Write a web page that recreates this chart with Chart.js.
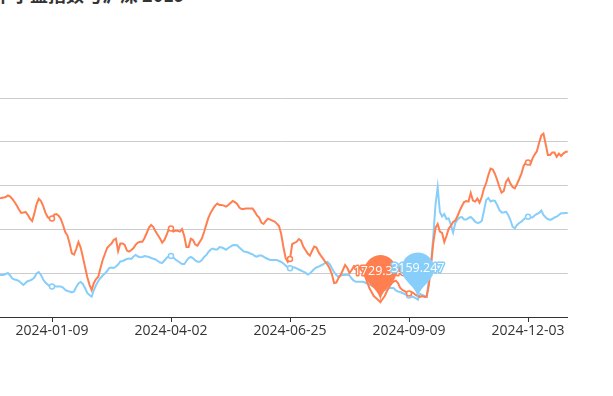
<!DOCTYPE html>
<html><head><meta charset="utf-8">
<script src="https://cdn.jsdelivr.net/npm/chart.js@4.4.1/dist/chart.umd.min.js"></script>
<style>
html,body{margin:0;padding:0;width:613px;height:396px;overflow:hidden;background:#fff;}
#title{position:absolute;left:-6px;top:-19px;font:bold 18px "Noto Sans CJK SC";color:#333;white-space:nowrap;}
#wrap{position:absolute;left:-50px;top:0;width:663px;height:396px;}
</style></head><body>
<div id="title">中小盘指数与沪深 2019</div>
<div id="wrap"><canvas id="c" width="663" height="396"></canvas></div>
<script>
// trading months and their trading days (categories)
const tradeMonths = ['2023-12','2024-01','2024-02','2024-03','2024-04','2024-05','2024-06','2024-07','2024-08','2024-09','2024-10','2024-11','2024-12'];
const tradeDays = [
  [1,4,5,6,7,8,11,12,13,14,15,18,19,20,21,22,25,26,27,28,29],
  [2,3,4,5,8,9,10,11,12,15,16,17,18,19,22,23,24,25,26,29,30,31],
  [1,2,5,6,7,8,19,20,21,22,23,26,27,28,29],
  [1,4,5,6,7,8,11,12,13,14,15,18,19,20,21,22,25,26,27,28,29],
  [1,2,3,8,9,10,11,12,15,16,17,18,19,22,23,24,25,26,29,30],
  [6,7,8,9,10,13,14,15,16,17,20,21,22,23,24,27,28,29,30,31],
  [3,4,5,6,7,11,12,13,14,17,18,19,20,21,24,25,26,27,28],
  [1,2,3,4,5,8,9,10,11,12,15,16,17,18,19,22,23,24,25,26,29,30,31],
  [1,2,5,6,7,8,9,12,13,14,15,16,19,20,21,22,23,26,27,28,29,30],
  [2,3,4,5,6,9,10,11,12,13,18,19,20,23,24,25,26,27,30],
  [8,9,10,11,14,15,16,17,18,21,22,23,24,25,28,29,30,31],
  [1,4,5,6,7,8,11,12,13,14,15,18,19,20,21,22,25,26,27,28,29],
  [2,3,4,5,6,9,10,11,12,13,16,17,18,19,20,23,24,25,26,27]
];
const tickLabels = ['2024-01-09','2024-04-02','2024-06-25','2024-09-09','2024-12-03'];

const orangeName = '中小盘指数';
const orangeValues = [
 2245,2248,2249,2250,2252,2255,2263,2257,2245,2230,
 2212,2192,2175,2177,2180,2166,2147,2135,2172,2220,
 2246,2235,2210,2177,2155,2146,2147,2167,2170,2162,
 2145,2115,2080,2062,2022,1973,1967,1995,2030,2002,
 1955,1905,1855,1817,1790,1825,1845,1856,1900,1940,
 1970,2000,2012,2022,2040,2047,1985,2023,2023,2015,
 1987,1982,1990,2000,2017,2027,2031,2031,2050,2075,
 2102,2115,2105,2082,2065,2048,2027,2040,2065,2095,
 2097,2082,2087,2086,2082,2095,2060,2005,2005,2046,
 2040,2017,2012,2030,2047,2080,2117,2152,2177,2195,
 2212,2222,2215,2215,2212,2207,2215,2225,2235,2230,
 2220,2202,2195,2195,2197,2198,2198,2198,2182,2163,
 2152,2127,2120,2135,2147,2142,2137,2132,2122,2110,
 2070,2005,1950,1930,1945,2020,2026,2031,2045,2037,
 2007,1990,1972,1962,1985,2007,2002,1978,1962,1947,
 1930,1917,1897,1870,1825,1827,1850,1866,1890,1915,
 1900,1875,1890,1910,1905,1905,1895,1880,1860,1830,
 1800,1780,1760,1750,1740,1729.346,1745,1760,1785,1805,
 1822,1832,1837,1825,1800,1790,1785,1777,1772,1780,
 1775,1765,1760,1755,1760,1755,1757,1815,1915,2025,
 2100,2120,2082,2075,2030,2060,2097,2110,2130,2137,
 2160,2187,2210,2230,2235,2232,2275,2237,2232,2247,
 2227,2255,2297,2325,2365,2397,2392,2370,2340,2305,
 2277,2285,2331,2347,2322,2305,2298,2320,2345,2372,
 2410,2427,2427,2417,2447,2467,2483,2525,2562,2572,
 2520,2465,2465,2477,2477,2456,2472,2460,2472,2480,
 2482];

const blueName = '沪深300指数';
const blueValues = [
 3395,3400,3405,3405,3405,3415,3425,3400,3370,3360,
 3355,3345,3325,3305,3325,3345,3350,3360,3380,3420,
 3435,3405,3360,3330,3310,3290,3290,3295,3290,3290,
 3290,3280,3255,3245,3240,3230,3240,3285,3320,3335,
 3315,3275,3225,3205,3188,3255,3305,3345,3375,3400,
 3420,3445,3475,3480,3475,3490,3510,3540,3545,3555,
 3565,3570,3565,3590,3605,3590,3582,3585,3595,3590,
 3585,3575,3567,3560,3545,3530,3525,3550,3575,3595,
 3595,3580,3560,3545,3530,3515,3515,3545,3575,3585,
 3572,3550,3538,3538,3555,3585,3605,3635,3660,3670,
 3660,3660,3685,3680,3670,3658,3675,3690,3702,3705,
 3702,3680,3660,3640,3638,3630,3620,3612,3595,3588,
 3600,3600,3588,3575,3565,3555,3555,3555,3555,3545,
 3535,3520,3500,3480,3472,3480,3482,3472,3460,3450,
 3438,3430,3410,3420,3442,3465,3480,3488,3500,3512,
 3525,3535,3515,3472,3435,3405,3388,3400,3405,3405,
 3410,3400,3370,3345,3338,3338,3338,3338,3330,3320,
 3310,3300,3290,3285,3275,3265,3260,3255,3265,3275,
 3275,3275,3250,3240,3235,3225,3215,3205,3200,3190,
 3185,3175,3159.247,3215,3205,3195,3185,3355,3535,3785,
 4105,4285,4035,3990,4015,3965,3970,3905,3830,3925,
 3960,3980,3985,3960,3960,3975,3985,3965,3938,3925,
 3930,3945,4045,4155,4175,4140,4150,4145,4105,4055,
 4030,4030,4038,4005,3955,3888,3872,3905,3925,3938,
 3960,3980,3988,3980,3980,4000,4015,4025,4050,4005,
 3980,3965,3955,3965,3980,3988,4005,4022,4022,4025,
 4025];

const ORANGE = '#ff7f50', BLUE = '#87cefa';

const categories = [];
tradeMonths.forEach((m, k) => tradeDays[k].forEach(d => categories.push(m + '-' + String(d).padStart(2, '0'))));
const tickIdx = tickLabels.map(t => categories.indexOf(t));

function pinPath(ctx, x, y, size) {
  const w = size / 5 * 3, h = Math.max(w, size), r = w / 2;
  const dy = r * r / (h - r);
  const cy = y - h + r + dy;
  const angle = Math.asin(dy / r);
  const dx = Math.cos(angle) * r;
  const tanX = Math.sin(angle), tanY = Math.cos(angle);
  const cpLen = r * 0.6, cpLen2 = r * 0.7;
  ctx.beginPath();
  ctx.moveTo(x - dx, cy + dy);
  ctx.arc(x, cy, r, Math.PI - angle, Math.PI * 2 + angle);
  ctx.bezierCurveTo(x + dx - tanX * cpLen, cy + dy + tanY * cpLen, x, y - cpLen2, x, y);
  ctx.bezierCurveTo(x, y - cpLen2, x - dx + tanX * cpLen, cy + dy + tanY * cpLen, x - dx, cy + dy);
  ctx.closePath();
  return cy;
}

const pinPlugin = {
  id: 'minPins',
  afterDatasetsDraw(chart) {
    const ctx = chart.ctx;
    chart.data.datasets.forEach((ds, di) => {
      const vals = ds.data;
      let mi = 0;
      vals.forEach((v, i) => { if (v < vals[mi]) mi = i; });
      const pt = chart.getDatasetMeta(di).data[mi];
      ctx.save();
      const cy = pinPath(ctx, pt.x, pt.y, 54);
      ctx.fillStyle = ds.borderColor;
      ctx.fill();
      ctx.font = '12.5px "Open Sans"';
      ctx.textAlign = 'center';
      ctx.textBaseline = 'middle';
      ctx.lineJoin = 'round';
      ctx.lineWidth = 3;
      ctx.strokeStyle = ds.borderColor;
      const txt = String(vals[mi]);
      ctx.strokeText(txt, pt.x, cy);
      ctx.fillStyle = '#fff';
      ctx.fillText(txt, pt.x, cy);
      ctx.restore();
    });
  }
};

const pointR = c => tickIdx.includes(c.dataIndex) ? 2.5 : 0;

new Chart(document.getElementById('c'), {
  type: 'line',
  data: {
    labels: categories,
    datasets: [
      { label: orangeName, data: orangeValues, yAxisID: 'y1', borderColor: ORANGE, backgroundColor: ORANGE,
        borderWidth: 2, pointRadius: pointR, pointHoverRadius: 0, pointBackgroundColor: '#fff',
        pointBorderColor: ORANGE, pointBorderWidth: 1.5, tension: 0 },
      { label: blueName, data: blueValues, yAxisID: 'y', borderColor: BLUE, backgroundColor: BLUE,
        borderWidth: 2, pointRadius: pointR, pointHoverRadius: 0, pointBackgroundColor: '#fff',
        pointBorderColor: BLUE, pointBorderWidth: 1.5, tension: 0 }
    ]
  },
  options: {
    responsive: false,
    animation: false,
    devicePixelRatio: 1,
    layout: { padding: { left: 44.7, right: 45.3, top: 98, bottom: 0 } },
    plugins: { legend: { display: false }, tooltip: { enabled: false } },
    scales: {
      x: {
        type: 'category',
        offset: false,
        grid: { drawOnChartArea: false, drawTicks: true, tickLength: 5, color: '#333', tickColor: '#333' },
        border: { display: true, color: '#333', width: 1 },
        ticks: { autoSkip: false, maxRotation: 0, minRotation: 0, padding: 1, color: '#333',
                 font: { family: 'Open Sans', size: 14 }, callback: v => categories[v] },
        afterBuildTicks: s => { s.ticks = tickIdx.map(i => ({ value: i })); },
        afterFit: s => { s.height = 79; }
      },
      y: {
        position: 'left', min: 2985, max: 5175,
        ticks: { display: false, count: 6 },
        grid: { color: '#ccc', drawTicks: false },
        border: { display: false },
        afterFit: s => { s.width = 0; }
      },
      y1: { position: 'right', min: 1655, max: 2750, display: false, grid: { drawOnChartArea: false } }
    }
  },
  plugins: [pinPlugin]
});
</script></body></html>
